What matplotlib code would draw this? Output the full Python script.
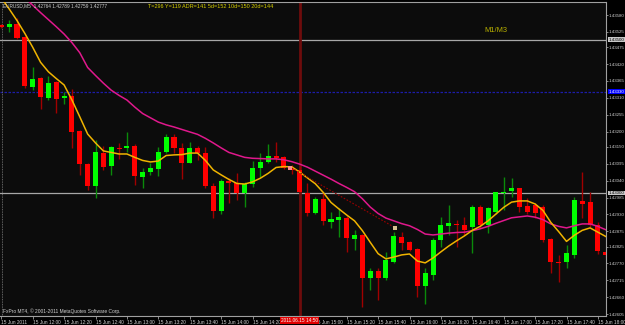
import matplotlib
matplotlib.use('Agg')
import matplotlib.pyplot as plt
import numpy as np

# ---------------- data (EURUSD M5, 15 Jun 2011, from 11:40) ----------------
opens = [1.43547, 1.43541, 1.43551, 1.43508, 1.43345, 1.43375, 1.43310, 1.43362, 1.43310, 1.43316,
         1.43202, 1.43094, 1.43023, 1.43130, 1.43088, 1.43147, 1.43147, 1.43153, 1.43052, 1.43068,
         1.43078, 1.43133, 1.43182, 1.43147, 1.43098, 1.43147, 1.43130, 1.43023, 1.42941, 1.43039,
         1.43032, 1.43000, 1.43029, 1.43081, 1.43101, 1.43120, 1.43117, 1.43081, 1.43075, 1.43000,
         1.42935, 1.42980, 1.42905, 1.42912, 1.42918, 1.42850, 1.42863, 1.42723, 1.42746, 1.42723,
         1.42775, 1.42856, 1.42840, 1.42817, 1.42697, 1.42732, 1.42847, 1.42892, 1.42899, 1.42895,
         1.42889, 1.42954, 1.42895, 1.42938, 1.43000, 1.43006, 1.43016, 1.42957, 1.42961, 1.42954,
         1.42850, 1.42775, 1.42775, 1.42798, 1.42974, 1.42970, 1.42895, 1.42808]
highs = [1.43551, 1.43564, 1.43570, 1.43512, 1.43411, 1.43378, 1.43381, 1.43365, 1.43329, 1.43339,
         1.43205, 1.43098, 1.43173, 1.43153, 1.43153, 1.43163, 1.43199, 1.43160, 1.43081, 1.43098,
         1.43150, 1.43192, 1.43192, 1.43163, 1.43166, 1.43153, 1.43150, 1.43032, 1.43045, 1.43049,
         1.43065, 1.43036, 1.43104, 1.43130, 1.43160, 1.43166, 1.43120, 1.43091, 1.43088, 1.43032,
         1.42987, 1.43003, 1.42938, 1.42951, 1.42925, 1.42879, 1.42866, 1.42755, 1.42755, 1.42807,
         1.42873, 1.42873, 1.42843, 1.42821, 1.42755, 1.42853, 1.42922, 1.42961, 1.42912, 1.42922,
         1.42961, 1.42961, 1.42954, 1.43003, 1.43052, 1.43049, 1.43016, 1.42983, 1.42967, 1.42961,
         1.42853, 1.42798, 1.42830, 1.42987, 1.43068, 1.43003, 1.42905, 1.42814]
lows = [1.43538, 1.43525, 1.43502, 1.43342, 1.43336, 1.43274, 1.43303, 1.43261, 1.43290, 1.43147,
        1.43059, 1.43010, 1.42984, 1.43075, 1.43059, 1.43111, 1.43133, 1.43026, 1.43016, 1.43059,
        1.43055, 1.43130, 1.43130, 1.43045, 1.43098, 1.43107, 1.43016, 1.42918, 1.42931, 1.42967,
        1.42977, 1.42954, 1.43019, 1.43052, 1.43098, 1.43101, 1.43078, 1.43062, 1.43000, 1.42925,
        1.42931, 1.42895, 1.42886, 1.42856, 1.42808, 1.42814, 1.42628, 1.42684, 1.42651, 1.42716,
        1.42772, 1.42814, 1.42811, 1.42661, 1.42638, 1.42716, 1.42824, 1.42863, 1.42824, 1.42863,
        1.42804, 1.42886, 1.42869, 1.42931, 1.42944, 1.42987, 1.42938, 1.42931, 1.42918, 1.42840,
        1.42739, 1.42710, 1.42755, 1.42788, 1.42918, 1.42889, 1.42801, 1.42788]
closes = [1.43541, 1.43551, 1.43505, 1.43349, 1.43371, 1.43313, 1.43358, 1.43306, 1.43316, 1.43199,
          1.43094, 1.43023, 1.43133, 1.43085, 1.43150, 1.43143, 1.43153, 1.43055, 1.43068, 1.43081,
          1.43133, 1.43182, 1.43147, 1.43098, 1.43147, 1.43130, 1.43023, 1.42941, 1.43039, 1.43032,
          1.43000, 1.43029, 1.43081, 1.43101, 1.43120, 1.43114, 1.43081, 1.43075, 1.43003, 1.42935,
          1.42980, 1.42909, 1.42915, 1.42922, 1.42853, 1.42863, 1.42723, 1.42746, 1.42723, 1.42781,
          1.42860, 1.42837, 1.42814, 1.42697, 1.42739, 1.42847, 1.42895, 1.42902, 1.42895, 1.42879,
          1.42954, 1.42895, 1.42951, 1.43003, 1.43003, 1.43016, 1.42954, 1.42938, 1.42935, 1.42847,
          1.42775, 1.42772, 1.42804, 1.42977, 1.42964, 1.42895, 1.42811, 1.42798]

ma_fast = [1.43636, 1.43600, 1.43562, 1.43520, 1.43475, 1.43426, 1.43395, 1.43373, 1.43352, 1.43303,
           1.43248, 1.43192, 1.43163, 1.43137, 1.43132, 1.43127, 1.43127, 1.43116, 1.43106, 1.43101,
           1.43104, 1.43122, 1.43124, 1.43125, 1.43130, 1.43130, 1.43106, 1.43075, 1.43059, 1.43044,
           1.43031, 1.43029, 1.43036, 1.43048, 1.43064, 1.43083, 1.43086, 1.43085, 1.43068, 1.43049,
           1.43030, 1.43002, 1.42969, 1.42948, 1.42928, 1.42909, 1.42877, 1.42839, 1.42802, 1.42785,
           1.42791, 1.42798, 1.42801, 1.42778, 1.42772, 1.42788, 1.42808, 1.42827, 1.42844, 1.42860,
           1.42878, 1.42891, 1.42909, 1.42931, 1.42953, 1.42970, 1.42974, 1.42974, 1.42964, 1.42943,
           1.42904, 1.42874, 1.42842, 1.42862, 1.42878, 1.42886, 1.42872, 1.42858]
ma_slow = [1.43714, 1.43688, 1.43662, 1.43636, 1.43612, 1.43588, 1.43565, 1.43542, 1.43518, 1.43490,
           1.43457, 1.43409, 1.43383, 1.43358, 1.43335, 1.43318, 1.43303, 1.43280, 1.43259, 1.43245,
           1.43231, 1.43222, 1.43215, 1.43207, 1.43199, 1.43191, 1.43178, 1.43163, 1.43147, 1.43132,
           1.43124, 1.43116, 1.43113, 1.43112, 1.43111, 1.43111, 1.43108, 1.43102, 1.43094, 1.43084,
           1.43071, 1.43058, 1.43045, 1.43031, 1.43018, 1.43004, 1.42981, 1.42954, 1.42933, 1.42918,
           1.42909, 1.42900, 1.42893, 1.42881, 1.42866, 1.42863, 1.42866, 1.42869, 1.42871, 1.42872,
           1.42877, 1.42883, 1.42891, 1.42901, 1.42910, 1.42919, 1.42922, 1.42925, 1.42921, 1.42913,
           1.42899, 1.42891, 1.42886, 1.42893, 1.42899, 1.42899, 1.42891, 1.42880]

time_labels = ["15 Jun 2011", "15 Jun 12:00", "15 Jun 12:20", "15 Jun 12:40", "15 Jun 13:00",
               "15 Jun 13:20", "15 Jun 13:40", "15 Jun 14:00", "15 Jun 14:20", "",
               "15 Jun 15:00", "15 Jun 15:20", "15 Jun 15:40", "15 Jun 16:00", "15 Jun 16:20",
               "15 Jun 16:40", "15 Jun 17:00", "15 Jun 17:20", "15 Jun 17:40", "15 Jun 18:00"]
time_label_step = 4

price_ticks = [1.43580, 1.43525, 1.43475, 1.43420, 1.43365, 1.43310, 1.43255, 1.43200, 1.43150,
               1.43095, 1.43040, 1.42985, 1.42930, 1.42875, 1.42825, 1.42770, 1.42715, 1.42660, 1.42605]

level_lines = [1.43500, 1.43000]
blue_line = 1.43330
cursor_bar = 38
cursor_label = "2011.06.15 14:50"
trade_bars = [37, 50]
trade_prices = [1.43081, 1.42889]

header = "EURUSD,M5  1.42764 1.42789 1.42759 1.42777"
info = "T=296 Y=119 ADR=141 5d=152 10d=150 20d=144"
tf_label = "M1/M3"
footer = "FxPro MT4, \u00a9 2001-2011 MetaQuotes Software Corp."

# ---------------- figure ----------------
plt.rcParams['font.family'] = ['Liberation Sans', 'DejaVu Sans']

W, H = 625, 325
fig = plt.figure(figsize=(W / 100, H / 100), dpi=100)
fig.patch.set_facecolor('#000000')
ax = fig.add_axes([0 / W, (H - 316) / H, 606 / W, 314 / H])
ax.set_facecolor('#0c0c0c')

x = np.arange(len(opens))
ax.set_xlim(-0.166, 77.03)
ax.set_ylim(1.425988, 1.436225)

FSX = 3.4
FSY = 3.15
TXT = '#d0d0d0'

# horizontal levels
for lv in level_lines:
    ax.axhline(lv, color='#a8a8a8', lw=0.9, zorder=1)
ax.axhline(blue_line, color='#1c1ca8', lw=0.9, ls=(0, (2, 1.2)), zorder=1)
# left separator
ax.axvline(0.05, color='#808080', lw=0.6, ls=(0, (1, 1)), zorder=1)
# cursor line
ax.axvline(cursor_bar, color='#6e0c0c', lw=2.0, zorder=1)

# candles
o = np.array(opens); h = np.array(highs); l = np.array(lows); c = np.array(closes)
up = c >= o
wick_col = np.where(up, '#0a8a0a', '#a00000')
body_col = np.where(up, '#00ff00', '#ff0000')
ax.vlines(x, l, h, colors=wick_col, lw=1.0, zorder=2)
min_h = 0.0000326
body_h = np.maximum(np.abs(c - o), min_h)
ax.bar(x, body_h, bottom=np.minimum(o, c), width=0.64, color=body_col, linewidth=0, zorder=3)

# moving averages
ax.plot(x, ma_slow, color='#e0188c', lw=1.1, zorder=4)
ax.plot(x, ma_fast, color='#f0b400', lw=1.1, zorder=4)

# trade line
ax.plot(trade_bars, trade_prices, color='#9a0000', lw=0.8, ls=(0, (1.5, 1.5)), zorder=4)
ax.plot(trade_bars[0] - 0.2, trade_prices[0], marker='s', ms=2.5, color='#ff8a8a', zorder=5, mew=0)
ax.plot(trade_bars[1] + 0.1, trade_prices[1] - 0.00003, marker='s', ms=2.5, color='#d8c090', zorder=5, mew=0)

# spines
for s in ['top', 'right', 'bottom']:
    ax.spines[s].set_color('#a0a0a0')
    ax.spines[s].set_linewidth(0.8)
ax.spines['left'].set_visible(False)
ax.spines['top'].set_linestyle((0, (2, 1)))

# x ticks
ax.set_xticks(x[::time_label_step][:len(time_labels)])
ax.set_xticklabels(time_labels)
for lab in ax.get_xticklabels():
    lab.set_horizontalalignment('left')
ax.tick_params(axis='x', direction='out', length=2, width=0.6, colors='#a0a0a0',
               labelcolor=TXT, labelsize=FSX, pad=0.8)

# y ticks on the right
ax.yaxis.tick_right()
ax.set_yticks(price_ticks)
ax.set_yticklabels([f"{p:.5f}" for p in price_ticks])
ax.tick_params(axis='y', direction='out', length=1.5, width=0.6, colors='#a0a0a0',
               labelcolor=TXT, labelsize=FSY, pad=0.6)

# highlighted axis labels
for lv in level_lines:
    ax.annotate(f"{lv:.5f}", xy=(1.0, lv), xycoords=('axes fraction', 'data'),
                xytext=(2.1, 0), textcoords='offset points', ha='left', va='center',
                fontsize=FSY, color='#000000', zorder=10, annotation_clip=False,
                bbox=dict(boxstyle='square,pad=0.1', fc='#c8c8c8', ec='none'))
ax.annotate(f"{blue_line:.5f}", xy=(1.0, blue_line), xycoords=('axes fraction', 'data'),
            xytext=(2.1, 0), textcoords='offset points', ha='left', va='center',
            fontsize=FSY, color='#ffffff', zorder=10, annotation_clip=False,
            bbox=dict(boxstyle='square,pad=0.1', fc='#0000ff', ec='none'))
ax.annotate(cursor_label, xy=(cursor_bar, 0), xycoords=('data', 'axes fraction'),
            xytext=(0, -1.6), textcoords='offset points', ha='center', va='top',
            fontsize=FSX, color='#ffffff', zorder=10, annotation_clip=False,
            bbox=dict(boxstyle='square,pad=0.2', fc='#e00000', ec='none'))

# texts
fig.text(3 / W, 1 - 6 / H, header, fontsize=3.4, color=TXT, va='center', ha='left')
fig.text(148 / W, 1 - 6 / H, info, fontsize=4.0, color='#d8d000', va='center', ha='left')
fig.text(484 / W, 1 - 31 / H, tf_label, fontsize=5.4, color='#b8b000', va='center', ha='left')
fig.text(3 / W, 1 - 311 / H, footer, fontsize=3.5, color=TXT, va='center', ha='left')

fig.savefig('out.png', dpi=100, facecolor=fig.get_facecolor())
